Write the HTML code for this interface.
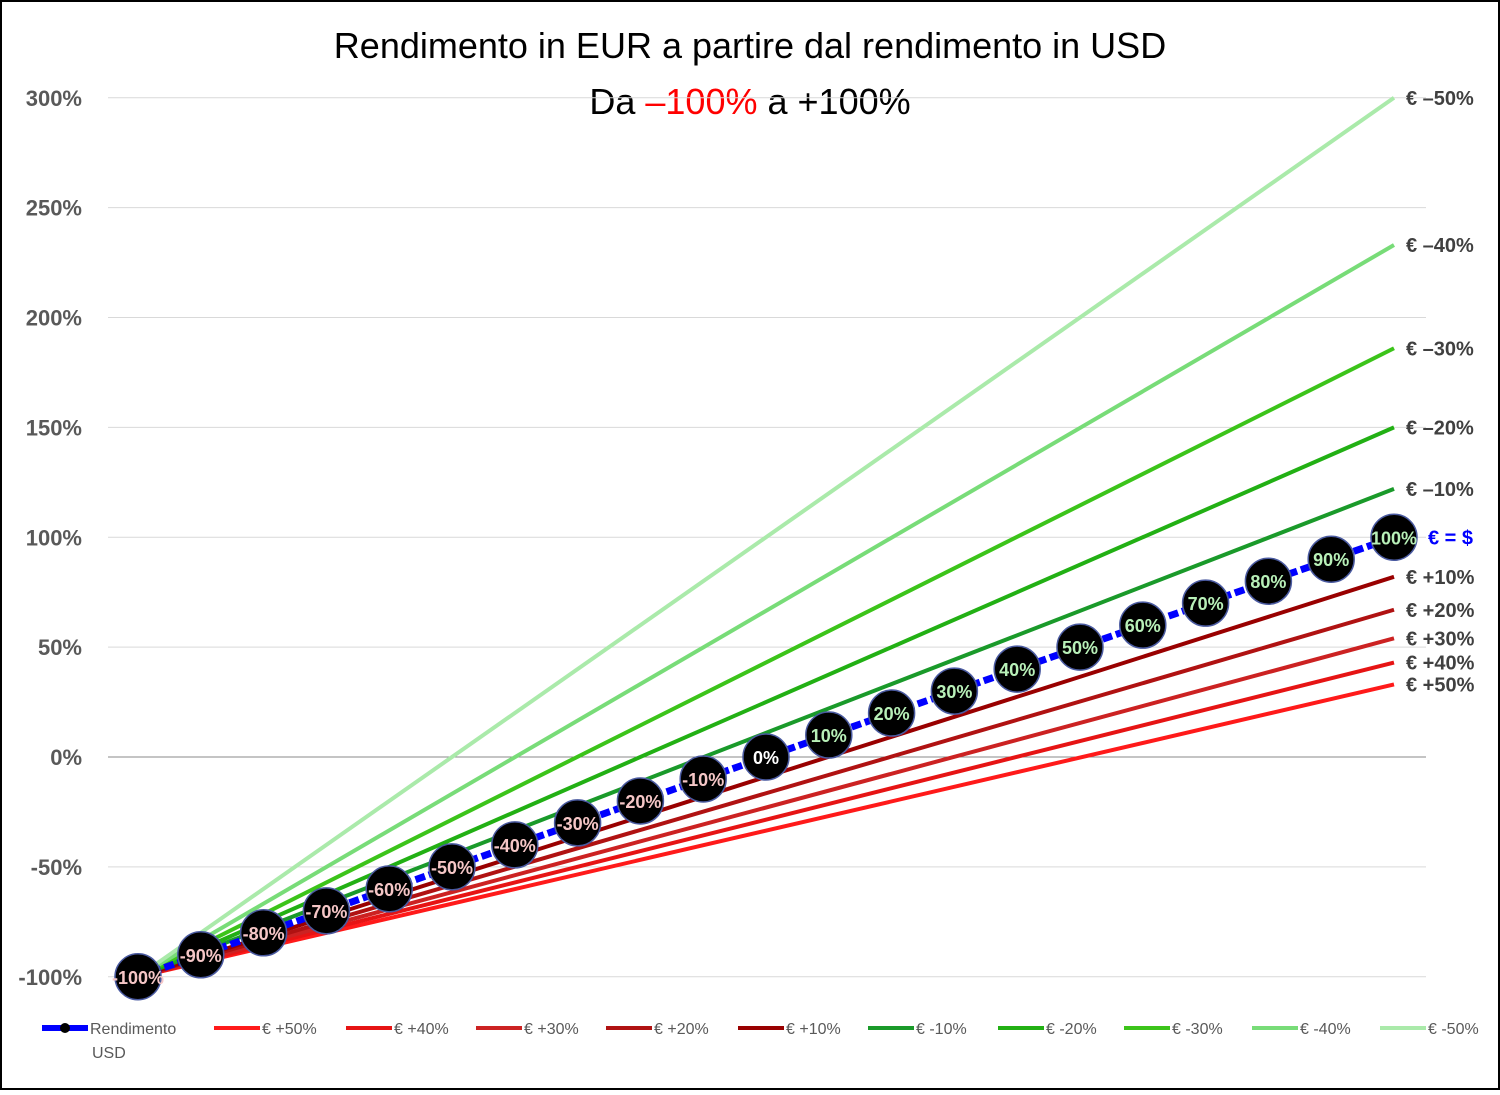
<!DOCTYPE html>
<html><head><meta charset="utf-8"><style>
body{margin:0;background:#fff}
svg text{font-family:"Liberation Sans",sans-serif}
</style></head><body>
<svg id="c" width="1500" height="1090" xmlns="http://www.w3.org/2000/svg">
<rect x="1" y="1" width="1498" height="1088" fill="#fff" stroke="#000" stroke-width="2"/>
<text x="750" y="58" font-size="36" text-anchor="middle" fill="#000">Rendimento in EUR a partire dal rendimento in USD</text>
<text x="750" y="114" font-size="36" text-anchor="middle" fill="#000">Da <tspan fill="#ff0000">–100%</tspan> a +100%</text>
<g id="grid"></g><g id="lines"></g><g id="marks"></g><g id="legend"></g>
</svg>
<script>
const yTicks=[300,250,200,150,100,50,0,-50,-100];
const usdReturns=[-100,-90,-80,-70,-60,-50,-40,-30,-20,-10,0,10,20,30,40,50,60,70,80,90,100];
const seriesNames=["€ +50%","€ +40%","€ +30%","€ +20%","€ +10%","€ -10%","€ -20%","€ -30%","€ -40%","€ -50%"];
const endLabels=["€ +50%","€ +40%","€ +30%","€ +20%","€ +10%","€ –10%","€ –20%","€ –30%","€ –40%","€ –50%"];
const seriesStart=[-100,-100,-100,-100,-100,-100,-100,-100,-100,-100];
const seriesEnd=[33,43,54,67,82,122,150,186,233,300];
const colors=["#ff1a1a","#e61414","#cc2222","#b01212","#990000","#1a9a2a","#22b014","#3cc41a","#78dc78","#aaeaaa"];
const ns="http://www.w3.org/2000/svg";
const X=v=>138+(v+100)/200*1256, Y=v=>757-v*2.1975;
function mk(t,a,p){const e=document.createElementNS(ns,t);for(const k in a)e.setAttribute(k,a[k]);p.appendChild(e);return e;}
const g=document.getElementById('grid');
yTicks.forEach(t=>{
 const l=mk('line',{x1:108,x2:1426,y1:Y(t),y2:Y(t),stroke:t===0?'#888':'#d9d9d9','stroke-width':1},g);
 
 
 const tx=mk('text',{x:82,y:Y(t)+8,'font-size':22,'font-weight':'bold','text-anchor':'end',fill:'#595959'},g);
 tx.textContent=t+'%';
 
 
});
const L=document.getElementById('lines');
seriesEnd.forEach((v,i)=>{
 const l=mk('line',{x1:X(-100),y1:Y(seriesStart[i]),x2:X(100),y2:Y(v),stroke:colors[i],'stroke-width':4},L);
 
 
 const t=mk('text',{x:1406,y:Y(v)+7,'font-size':20,'font-weight':'bold',fill:'#404040'},L);
 t.textContent=endLabels[i];
 
 
});
const M=document.getElementById('marks');
const pl=mk('polyline',{points:usdReturns.map(v=>X(v)+','+Y(v)).join(' '),fill:'none',stroke:'#0000ff','stroke-width':7,'stroke-dasharray':'10 4'},M);


usdReturns.forEach(v=>{
 const c=mk('circle',{cx:X(v),cy:Y(v),r:23,fill:'#000',stroke:'#4a5aa0','stroke-width':1.5},M);
 
 
 const t=mk('text',{x:X(v),y:Y(v)+7,'font-size':18,'font-weight':'bold','text-anchor':'middle',fill:v<0?'#f5c6c6':(v>0?'#b8f0b8':'#fff')},M);
 t.textContent=v+'%';
 
 
});
const eq=mk('text',{x:1428,y:Y(100)+7,'font-size':20,'font-weight':'bold',fill:'#0000ff'},M);
eq.textContent='€ = $';


const G=document.getElementById('legend');
const lx=[42,214,346,476,606,738,868,998,1124,1252,1380];
const names=["Rendimento"].concat(seriesNames);
const lc=["#0000ff"].concat(colors);
names.forEach((n,i)=>{
 const l=mk('line',{x1:lx[i],x2:lx[i]+46,y1:1028,y2:1028,stroke:lc[i],'stroke-width':i===0?6:4},G);
 
 
 if(i===0){const d=mk('circle',{cx:lx[0]+23,cy:1028,r:5,fill:'#000'},G);}
 const t=mk('text',{x:lx[i]+48,y:1034,'font-size':16,fill:'#595959'},G);
 t.textContent=n;
 
 
});
const t2=mk('text',{x:92,y:1058,'font-size':16,fill:'#595959'},G);
t2.textContent='USD';


</script>
</body></html>
